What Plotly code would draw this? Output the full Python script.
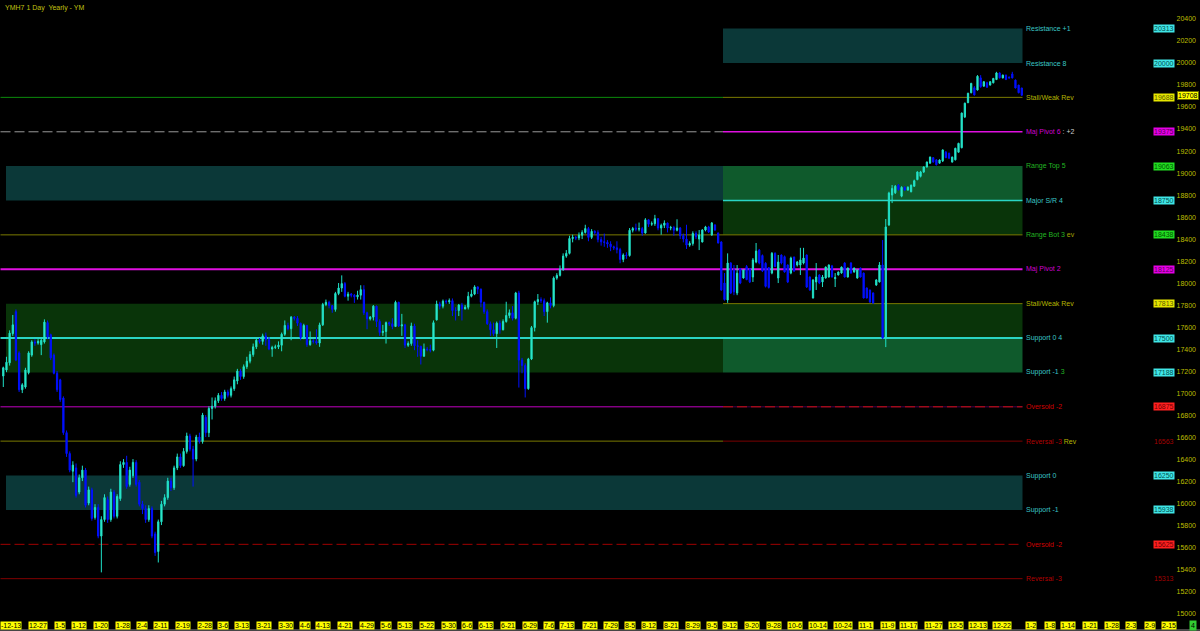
import plotly.graph_objects as go

# ---------------- data ----------------
OPEN = [
    17155,17210,17275,17540,17740,17365,17030,17055,17185,17345,
    17465,17455,17440,17465,17640,17530,17345,17180,17120,16955,
    16640,16450,16290,16320,16100,16230,16300,16000,16120,15870,
    15960,15700,15850,16030,15850,16100,15880,16040,16350,16370,
    16170,16250,16370,16190,15990,15950,15850,15950,15720,15560,
    15830,15990,16050,16200,16140,16320,16420,16340,16470,16610,
    16490,16400,16600,16560,16780,16640,16860,16880,16930,16980,
    16950,17010,16980,17040,17110,17200,17150,17240,17290,17350,
    17420,17480,17470,17520,17485,17400,17415,17420,17435,17535,
    17615,17585,17690,17680,17635,17505,17615,17440,17475,17470,
    17455,17620,17805,17825,17795,17760,17905,17955,17995,17880,
    17900,17890,17875,17890,17940,17730,17675,17690,17790,17650,
    17550,17560,17640,17630,17605,17825,17610,17620,17435,17450,
    17610,17430,17425,17335,17400,17395,17390,17665,17810,17790,
    17835,17830,17840,17750,17750,17800,17765,17780,17880,17900,
    17965,17945,17825,17740,17630,17575,17540,17635,17575,17650,
    17705,17730,17680,17910,17300,17250,17040,17310,17595,17830,
    17850,17840,17740,17820,17795,18045,18070,18125,18245,18270,
    18405,18415,18410,18435,18460,18495,18415,18470,18460,18395,
    18375,18370,18355,18330,18320,18305,18215,18255,18250,18480,
    18500,18490,18495,18455,18575,18535,18540,18585,18500,18525,
    18545,18500,18505,18480,18500,18430,18400,18345,18360,18450,
    18400,18373,18482,18510,18437,18528,18455,18373,18000,17846,
    18182,18120,17910,18130,18046,18150,18130,18055,18191,18300,
    18250,18180,18140,18091,18270,18046,18255,18240,18164,18091,
    18237,18164,18164,18182,18255,18055,17864,18010,18073,18010,
    18046,18055,18155,18040,18073,18091,18182,18055,18182,18100,
    18046,18137,18091,17955,17937,17910,17982,18010,18164,17500,
    18528,18800,18820,18890,18790,18870,18845,18830,18880,18940,
    18970,19010,19055,19090,19140,19120,19090,19110,19190,19180,
    19100,19120,19190,19230,19510,19640,19730,19775,19755,19865,
    19790,19820,19800,19820,19850,19910,19865,19890,19870,19900,
    19845,19800,19773,
]
HIGH = [
    17240,17330,17570,17710,17760,17380,17090,17230,17380,17480,
    17490,17490,17500,17670,17660,17540,17360,17200,17130,16970,
    16660,16470,16380,16360,16260,16340,16320,16150,16140,15990,
    15990,15880,16080,16060,16130,16120,16080,16380,16400,16430,
    16330,16400,16390,16210,16020,15980,15980,15970,15740,15850,
    16020,16080,16230,16230,16340,16450,16450,16500,16640,16630,
    16520,16620,16640,16820,16800,16880,16960,16960,17000,17010,
    17030,17030,17060,17150,17220,17220,17260,17330,17380,17450,
    17500,17500,17540,17550,17510,17430,17440,17470,17550,17660,
    17640,17700,17700,17700,17640,17630,17620,17560,17490,17580,
    17640,17820,17850,17840,17800,17920,18000,18070,18010,17920,
    17910,17900,17930,17980,17980,17740,17700,17800,17795,17670,
    17620,17650,17650,17680,17840,17830,17720,17630,17470,17640,
    17630,17480,17430,17450,17420,17440,17660,17840,17830,17850,
    17850,17860,17860,17780,17810,17820,17800,17920,17940,17980,
    17970,17950,17830,17760,17650,17640,17650,17660,17670,17830,
    17760,17790,17920,17930,17320,17270,17320,17610,17840,17900,
    17870,17860,17830,17870,18060,18090,18160,18270,18300,18430,
    18440,18430,18460,18480,18530,18510,18490,18480,18480,18420,
    18450,18390,18380,18340,18380,18320,18270,18280,18500,18510,
    18540,18550,18510,18590,18580,18560,18620,18590,18540,18570,
    18550,18520,18520,18580,18510,18450,18530,18380,18470,18470,
    18482,18490,18520,18520,18555,18535,18460,18380,18091,18270,
    18190,18164,18164,18137,18125,18164,18137,18227,18364,18310,
    18260,18190,18146,18282,18280,18255,18260,18250,18170,18240,
    18240,18200,18320,18320,18260,18060,18035,18182,18080,18073,
    18150,18170,18165,18091,18105,18150,18190,18140,18190,18140,
    18125,18140,18095,17960,17940,17915,18035,18191,18391,18582,
    18830,18891,18891,18900,18880,18880,18880,18895,18940,19015,
    19020,19060,19105,19150,19145,19125,19125,19215,19200,19185,
    19150,19230,19275,19550,19640,19730,19820,19790,19890,19890,
    19835,19830,19835,19865,19920,19915,19895,19895,19880,19920,
    19850,19800,19775,
]
LOW = [
    17055,17190,17250,17520,17290,17010,17000,17040,17170,17330,
    17430,17440,17345,17450,17490,17300,17170,17010,16920,16620,
    16420,16280,16190,16050,16080,16200,15960,15980,15840,15850,
    15680,15370,15830,15820,15830,15860,15860,16020,16320,16130,
    16150,16230,16150,15970,15900,15820,15830,15680,15520,15460,
    15800,15970,16030,16110,16120,16300,16320,16330,16450,16470,
    16150,16380,16540,16540,16600,16600,16760,16860,16910,16930,
    16930,16960,16960,17020,17080,17120,17130,17220,17270,17330,
    17400,17450,17440,17430,17390,17330,17400,17400,17380,17520,
    17570,17480,17660,17610,17480,17490,17420,17430,17450,17440,
    17420,17610,17790,17770,17730,17740,17890,17920,17870,17840,
    17870,17820,17850,17850,17710,17580,17660,17660,17600,17520,
    17520,17450,17610,17580,17600,17600,17520,17410,17420,17430,
    17390,17330,17260,17330,17380,17370,17380,17660,17760,17770,
    17810,17810,17700,17660,17700,17660,17760,17760,17870,17890,
    17900,17780,17720,17620,17520,17520,17410,17540,17570,17640,
    17680,17660,17670,17050,17180,16960,17030,17300,17560,17800,
    17820,17700,17640,17770,17780,18030,18060,18110,18230,18260,
    18370,18390,18390,18400,18450,18380,18400,18440,18370,18340,
    18330,18320,18290,18300,18270,18180,18190,18220,18240,18460,
    18470,18470,18430,18450,18510,18520,18520,18480,18440,18500,
    18460,18480,18430,18470,18400,18370,18310,18330,18340,18400,
    18300,18370,18470,18455,18430,18475,18360,17930,17840,17820,
    17900,17890,17890,17990,18040,18028,18000,18010,18180,18170,
    18100,17960,17950,18080,18146,18000,18170,18095,18000,18080,
    18100,18150,18073,18170,17955,17930,17860,17937,17990,17964,
    18040,18050,18050,17964,18070,18085,18050,18050,18085,18095,
    18040,18050,17860,17860,17820,17810,17975,18005,17490,17418,
    18520,18727,18810,18840,18780,18840,18840,18825,18875,18935,
    18960,19000,19050,19085,19095,19070,19085,19100,19135,19130,
    19095,19115,19185,19225,19500,19635,19725,19705,19750,19775,
    19785,19775,19795,19815,19845,19860,19860,19845,19860,19860,
    19770,19725,19700,
]
CLOSE = [
    17230,17280,17545,17620,17300,17030,17075,17210,17365,17465,
    17455,17470,17480,17645,17510,17320,17180,17030,16940,16640,
    16450,16300,16345,16070,16230,16300,15980,16120,15860,15960,
    15700,15850,16050,15850,16100,15880,16060,16350,16370,16150,
    16300,16370,16170,15990,15950,15850,15950,15700,15550,15830,
    15990,16050,16200,16140,16320,16420,16340,16470,16610,16490,
    16400,16600,16560,16800,16640,16860,16880,16930,16980,16950,
    17010,16980,17040,17120,17200,17150,17240,17290,17350,17420,
    17480,17470,17520,17485,17400,17415,17420,17435,17535,17615,
    17585,17690,17680,17635,17505,17615,17440,17475,17470,17455,
    17620,17805,17825,17795,17760,17905,17955,17995,17880,17900,
    17890,17875,17890,17940,17730,17675,17690,17790,17650,17550,
    17560,17640,17630,17605,17825,17610,17620,17435,17450,17610,
    17430,17425,17335,17400,17395,17390,17640,17810,17790,17835,
    17830,17840,17750,17750,17800,17765,17780,17880,17900,17965,
    17945,17825,17740,17630,17575,17540,17635,17575,17650,17705,
    17730,17680,17910,17300,17250,17040,17310,17595,17830,17850,
    17840,17740,17820,17795,18045,18070,18125,18245,18270,18405,
    18415,18410,18435,18460,18495,18415,18470,18460,18395,18375,
    18370,18355,18330,18320,18305,18215,18255,18250,18480,18495,
    18490,18495,18455,18575,18535,18540,18585,18500,18525,18545,
    18500,18505,18480,18500,18430,18400,18345,18360,18450,18420,
    18437,18482,18510,18464,18546,18482,18364,17937,17850,18182,
    17910,17920,18090,18000,18119,18030,18010,18210,18291,18182,
    18110,17970,17960,18270,18150,18191,18182,18100,18010,18227,
    18110,18191,18210,18227,17964,17937,18028,18055,18000,18055,
    18146,18164,18055,18050,18100,18146,18055,18137,18091,18137,
    18119,18055,17864,17864,17828,17819,18028,18164,17500,18510,
    18818,18860,18880,18850,18870,18845,18870,18890,18930,19010,
    19010,19055,19100,19145,19100,19075,19118,19210,19140,19135,
    19145,19225,19270,19545,19635,19725,19815,19710,19880,19785,
    19830,19780,19830,19860,19910,19865,19890,19850,19865,19865,
    19773,19730,19708,
]

TICK_LABELS = ["-12-13", "12-27", "1-5", "1-12", "1-20", "1-28", "2-4", "2-11", "2-19", "2-28",
               "3-6", "3-13", "3-21", "3-30", "4-6", "4-13", "4-21", "4-29", "5-6", "5-13",
               "5-22", "5-30", "6-6", "6-13", "6-21", "6-29", "7-6", "7-13", "7-21", "7-29",
               "8-5", "8-12", "8-21", "8-29", "9-5", "9-12", "9-20", "9-28", "10-6", "10-14",
               "10-24", "11-1", "11-9", "11-17", "11-27", "12-5", "12-13", "12-22",
               "1-2", "1-8", "1-14", "1-21", "1-28", "2-3", "2-9", "2-15"]
TICK_BARS = [2.4, 11.0, 17.9, 23.9, 30.9, 37.8, 43.9, 49.9, 56.8, 63.8,
             69.5, 75.5, 82.4, 89.4, 95.4, 101.1, 108.0, 115.0, 121.0, 127.0,
             134.0, 140.9, 146.6, 152.6, 159.6, 166.5, 172.5, 178.2, 185.5, 192.1,
             198.1, 204.1, 211.1, 218.0, 224.1, 229.8, 236.7, 243.7, 250.3, 257.6,
             265.5, 272.7, 279.7, 286.3, 294.2, 301.2, 308.2, 315.7,
             324.9, 330.9, 336.6, 343.6, 350.5, 356.5, 362.5, 368.6]
PERIOD_MARK = "4"
PERIOD_MARK_BAR = 376.1

LEVEL_PRICES = [20313, 20000, 19688, 19375, 19063, 18750, 18438, 18125, 17813,
                17500, 17188, 16875, 16563, 16250, 15938, 15625, 15313]
LEVEL_NAMES = ["Resistance +1", "Resistance 8", "Stall/Weak Rev", "Maj Pivot 6", "Range Top 5",
               "Major S/R 4", "Range Bot 3", "Maj Pivot 2", "Stall/Weak Rev", "Support 0 4",
               "Support -1", "Oversold -2", "Reversal -3", "Support 0", "Support -1",
               "Oversold -2", "Reversal -3"]
LEVEL_SUFFIX = ["", "", "", " : +2", "", "", " ev", "", "", "", " 3", "", " Rev", "", "", "", ""]
LEVEL_KIND = ["cyan", "cyan", "yellow", "magenta", "green", "cyan", "green", "magenta", "yellow",
              "cyan", "cyan", "red", "dred", "cyan", "cyan", "red", "dred"]

CURRENT_PRICE = 19708
TITLE = "YMH7 1 Day\u00a0 Yearly - YM"
Y_TICKS = list(range(15000, 20401, 200))

# ---------------- geometry / styles ----------------
W, H = 1200, 631
PLOT_H = 615
X0_PX, BAR_PX = 3.3, 3.163
PTS_PER_PX = 9.09
P_TOP = 20573


def bar_at(px):
    return (px - X0_PX) / BAR_PX


X_RANGE = [bar_at(0), bar_at(W)]
Y_RANGE = [P_TOP - PLOT_H * PTS_PER_PX, P_TOP]
L_EDGE = bar_at(0.5)
BOX_L = bar_at(6)
SPLIT = bar_at(723)
R_EDGE = bar_at(1022.5)

FONT = "Liberation Sans, Arial, sans-serif"
TEAL = "#0b3838"
MGREEN = "#0f5a2c"
DGREEN = "#093409"
CYAN_LINE = "#2ad4c4"
MAGENTA = "#e010e0"
OLIVE = "#7a7a00"

TEXT_COL = {"cyan": "#3ac6c6", "yellow": "#b4b400", "magenta": "#d000d0",
            "green": "#22b522", "red": "#d00000", "dred": "#b00000"}
BOX_BG = {"cyan": "#40e6e6", "yellow": "#e6e600", "magenta": "#e600e6",
          "green": "#22dd22", "red": "#ff2020", "dred": "rgba(0,0,0,0)"}
BOX_FG = {"cyan": "#005050", "yellow": "#5a5a00", "magenta": "#5a005a",
          "green": "#005500", "red": "#700000", "dred": "#a00000"}
SUFFIX_COL = {" : +2": "#d0d0d0", " ev": "#a0a000", " 3": "#22b522", " Rev": "#b4b400"}

P = LEVEL_PRICES

shapes = []


def rect(x0, x1, p0, p1, color):
    shapes.append(dict(type="rect", xref="x", yref="y", x0=x0, x1=x1, y0=p0, y1=p1,
                       fillcolor=color, line=dict(width=0), layer="below"))


def hline(x0, x1, p, color, width=1, dash="solid"):
    shapes.append(dict(type="line", xref="x", yref="y", x0=x0, x1=x1, y0=p, y1=p,
                       line=dict(color=color, width=width, dash=dash), layer="below"))


# zones
rect(SPLIT, R_EDGE, P[1], P[0], TEAL)
rect(BOX_L, SPLIT, P[5], P[4], TEAL)
rect(SPLIT, R_EDGE, P[5], P[4], MGREEN)
rect(SPLIT, R_EDGE, P[6], P[5], DGREEN)
rect(BOX_L, SPLIT, P[10], P[8], DGREEN)
rect(SPLIT, R_EDGE, P[9], P[8], DGREEN)
rect(SPLIT, R_EDGE, P[10], P[9], MGREEN)
rect(BOX_L, R_EDGE, P[14], P[13], TEAL)

# level lines
hline(L_EDGE, SPLIT, P[2], "#0b8a0b")
hline(SPLIT, R_EDGE, P[2], OLIVE)
hline(L_EDGE, SPLIT, P[3], "#9a9a9a", 1, "10px,4px")
hline(SPLIT, R_EDGE, P[3], MAGENTA, 1.5)
hline(SPLIT, R_EDGE, P[5], CYAN_LINE, 1.5)
hline(L_EDGE, R_EDGE, P[6], OLIVE)
hline(L_EDGE, R_EDGE, P[7], MAGENTA, 2)
hline(SPLIT, R_EDGE, P[8], OLIVE)
hline(L_EDGE, R_EDGE, P[9], CYAN_LINE, 2)
hline(L_EDGE, SPLIT, P[11], "#c000c0")
hline(SPLIT, R_EDGE, P[11], "#4a004a")
hline(SPLIT, R_EDGE, P[11], "#d01010", 1, "10px,4px")
hline(L_EDGE, SPLIT, P[12], OLIVE)
hline(SPLIT, R_EDGE, P[12], "#7a0000")
hline(L_EDGE, R_EDGE, P[15], "#a00000", 1, "10px,4px")
hline(L_EDGE, R_EDGE, P[16], "#800000")

# bottom window border
shapes.append(dict(type="line", xref="paper", yref="paper", x0=0, x1=1,
                   y0=-(H - 1 - PLOT_H) / PLOT_H, y1=-(H - 1 - PLOT_H) / PLOT_H,
                   line=dict(color="#8a8a8a", width=1)))

annotations = []
# level names and value boxes
for price, name, suf, kind in zip(LEVEL_PRICES, LEVEL_NAMES, LEVEL_SUFFIX, LEVEL_KIND):
    txt = name
    if suf:
        txt += '<span style="color:%s">%s</span>' % (SUFFIX_COL[suf], suf.replace(" ", "\u00a0"))
    annotations.append(dict(x=bar_at(1024), y=price, xref="x", yref="y", text=txt,
                            showarrow=False, xanchor="left", yanchor="middle",
                            font=dict(family=FONT, size=7, color=TEXT_COL[kind])))
    annotations.append(dict(x=bar_at(1175), y=price, xref="x", yref="y", text=str(price),
                            showarrow=False, xanchor="right", yanchor="middle",
                            bgcolor=BOX_BG[kind], borderpad=0,
                            font=dict(family=FONT, size=7, color=BOX_FG[kind])))

# current price marker
annotations.append(dict(x=bar_at(1176.5), y=CURRENT_PRICE, xref="x", yref="y", text=str(CURRENT_PRICE),
                        showarrow=False, xanchor="left", yanchor="middle",
                        bgcolor="#ffff00", bordercolor="#6a6a00", borderwidth=1, borderpad=0,
                        font=dict(family=FONT, size=7, color="#000000")))

# time labels
for lab, b in zip(TICK_LABELS, TICK_BARS):
    annotations.append(dict(x=b, y=0, xref="x", yref="paper", yshift=-10, text=lab,
                            showarrow=False, xanchor="center", yanchor="middle",
                            bgcolor="#ffff00", borderpad=0,
                            font=dict(family=FONT, size=7, color="#000000")))
annotations.append(dict(x=PERIOD_MARK_BAR, y=0, xref="x", yref="paper", yshift=-10, text=PERIOD_MARK,
                        showarrow=False, xanchor="center", yanchor="middle",
                        bgcolor="#33cc33", borderpad=1,
                        font=dict(family=FONT, size=7, color="#000000")))

# title
annotations.append(dict(x=0, y=1, xref="paper", yref="paper", xshift=3, yshift=-2, text=TITLE,
                        showarrow=False, xanchor="left", yanchor="top",
                        font=dict(family=FONT, size=7, color="#c0c010")))

fig = go.Figure(go.Candlestick(
    x=list(range(len(CLOSE))), open=OPEN, high=HIGH, low=LOW, close=CLOSE,
    increasing=dict(line=dict(color="#1ee0c8", width=1), fillcolor="#40f0c8"),
    decreasing=dict(line=dict(color="#0010ff", width=1), fillcolor="#0010ff"),
    whiskerwidth=0, hoverinfo="skip", showlegend=False,
))

fig.update_layout(
    width=W, height=H,
    margin=dict(l=0, r=0, t=0, b=H - PLOT_H),
    paper_bgcolor="#000000", plot_bgcolor="#000000",
    shapes=shapes, annotations=annotations,
    boxgap=0.6, boxgroupgap=0,
    showlegend=False,
    xaxis=dict(range=X_RANGE, showgrid=False, zeroline=False, showticklabels=False,
               showline=False, ticks="", rangeslider=dict(visible=False), fixedrange=True),
    yaxis=dict(range=Y_RANGE, side="right", showgrid=False, zeroline=False, showline=False,
               ticks="", tickvals=Y_TICKS, ticktext=[str(v) for v in Y_TICKS],
               ticklabelposition="inside", ticklabelstandoff=1, ticklabeloverflow="allow",
               tickfont=dict(family=FONT, size=7, color="#bebe00"), fixedrange=True),
)

fig.write_html("out.html", config={"displayModeBar": False})

# remove the browser's default page margin so the 1200x631 figure fills the window
with open("out.html", encoding="utf-8") as f:
    page = f.read()
page = page.replace("<head>", "<head><style>html,body{margin:0;padding:0;background:#000;overflow:hidden}</style>", 1)
with open("out.html", "w", encoding="utf-8") as f:
    f.write(page)
